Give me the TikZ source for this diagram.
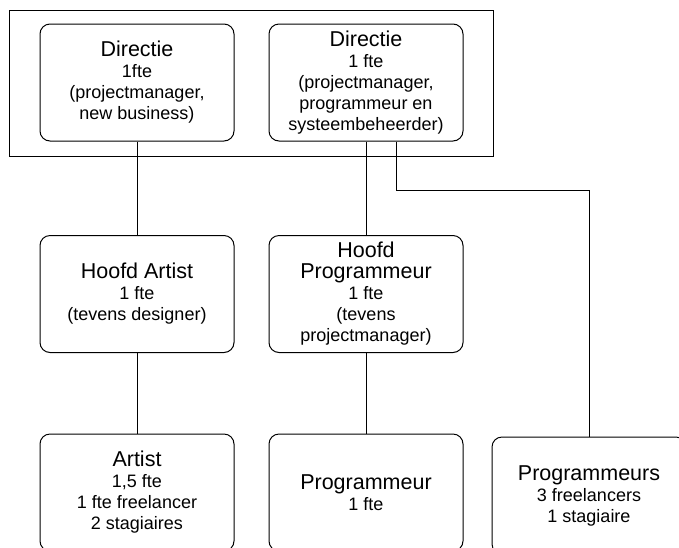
\documentclass[tikz,border=0pt]{standalone}
\usepackage{fontspec}
\setmainfont{Liberation Sans}
\newcommand{\kop}[1]{{\fontsize{21.5}{25}\selectfont #1}}
\begin{document}
\begin{tikzpicture}[x=1pt, y=-1pt]
\tikzstyle{every node}=[draw, line width=1pt, rounded corners=10pt, align=center,
  minimum width=194pt, minimum height=117pt, inner sep=0pt,
  font=\fontsize{18}{21}\selectfont];
\useasboundingbox (0,0) rectangle (679,547);
\clip (0,0) rectangle (679,547);
\node[rounded corners=0pt, minimum width=484pt, minimum height=146pt] (top) at (251, 83) {};
\node (dir1) at (137, 82.5) {\kop{Directie}\\1fte\\(projectmanager,\\new business)};
\node (dir2) at (366, 82.5) {\kop{Directie}\\1 fte\\(projectmanager,\\programmeur en\\systeembeheerder)};
\node (hart) at (137, 294) {\kop{Hoofd Artist}\\1 fte\\(tevens designer)};
\node (hprog) at (366, 294) {\kop{Hoofd}\\\kop{Programmeur}\\1 fte\\(tevens\\projectmanager)};
\node (artist) at (137, 492.5) {\kop{Artist}\\1,5 fte\\1 fte freelancer\\2 stagiaires};
\node (prog) at (366, 492.5) {\kop{Programmeur}\\1 fte};
\node (progs) at (589, 495.5) {\kop{Programmeurs}\\3 freelancers\\1 stagiaire};
\coordinate (knik) at (396, 190);
\draw[line width=1pt] (dir1) -- (hart)
(hart) -- (artist)
(dir2) -- (hprog)
(hprog) -- (prog)
(dir2.south -| knik) -- (knik) -| (progs.north);
\end{tikzpicture}
\end{document}
